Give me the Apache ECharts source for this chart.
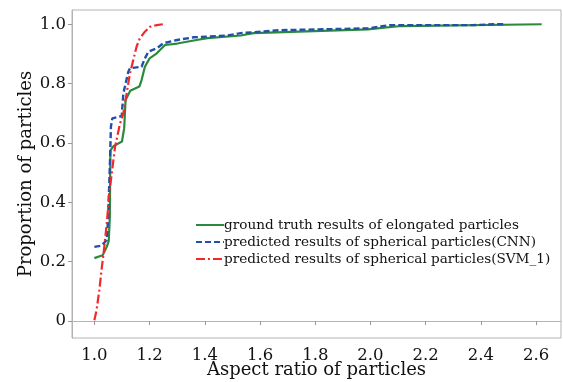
<!DOCTYPE html>
<html lang="en">
<head>
	<meta charset="UTF-8">
	<title>Aspect ratio of particles</title>
	<script type="text/javascript" src="https://cdn.jsdelivr.net/npm/echarts@6/dist/echarts.min.js"></script>
	<style type="text/css">
		html,body{margin:0;padding:0;background:#fff;}
	</style>
</head>
<body>
	<div id="main" style="width:563px;height:382px;"></div>
	<script>
		// ground truth (elongated)
		var truthX = [1.0, 1.03, 1.045, 1.052, 1.056, 1.058, 1.07, 1.1, 1.108, 1.113, 1.13, 1.163, 1.171, 1.183, 1.2, 1.226, 1.256, 1.3, 1.305, 1.37, 1.41, 1.53, 1.576, 1.99, 2.11, 2.62];
		var truthY = [0.212, 0.222, 0.25, 0.27, 0.35, 0.575, 0.59, 0.605, 0.65, 0.745, 0.776, 0.79, 0.812, 0.857, 0.885, 0.902, 0.93, 0.935, 0.941, 0.947, 0.953, 0.962, 0.97, 0.983, 0.994, 1.0];
		// CNN
		var cnnX = [1.0, 1.026, 1.045, 1.05, 1.057, 1.06, 1.065, 1.099, 1.105, 1.123, 1.129, 1.171, 1.183, 1.196, 1.226, 1.25, 1.3, 1.36, 1.48, 1.53, 1.673, 1.99, 2.07, 2.37, 2.445, 2.49];
		var cnnY = [0.25, 0.254, 0.273, 0.35, 0.55, 0.655, 0.683, 0.691, 0.767, 0.84, 0.852, 0.857, 0.885, 0.908, 0.919, 0.936, 0.947, 0.956, 0.962, 0.97, 0.98, 0.986, 0.997, 0.997, 1.0, 1.0];
		// SVM_1
		var svmX = [1.0, 1.008, 1.018, 1.026, 1.036, 1.045, 1.054, 1.075, 1.093, 1.105, 1.117, 1.129, 1.141, 1.153, 1.165, 1.183, 1.2, 1.226, 1.248];
		var svmY = [0.003, 0.037, 0.104, 0.172, 0.25, 0.329, 0.43, 0.587, 0.666, 0.7, 0.767, 0.835, 0.88, 0.925, 0.953, 0.975, 0.991, 0.997, 1.0];

		var xTicks = [1.0, 1.2, 1.4, 1.6, 1.8, 2.0, 2.2, 2.4, 2.6];
		var yTicks = [0, 0.2, 0.4, 0.6, 0.8, 1.0];

		var names = [
			'ground truth results of elongated particles',
			'predicted results of spherical particles(CNN)',
			'predicted results of spherical particles(SVM_1)'
		];

		function zip(a, b){
			var out = [];
			for(var i = 0;i<a.length;i++){ out.push([a[i], b[i]]); }
			return out;
		}

		var font = 'DejaVu Serif';
		var chart = echarts.init(document.getElementById('main'));
		var option = {
			animation: false,
			grid: {
				left: 72, right: 2, top: 10, bottom: 44,
				outerBoundsMode: 'none',
				show: true, borderColor: '#b4b4b4', borderWidth: 1
			},
			legend: {
				orient: 'vertical',
				left: 190, top: 213,
				itemWidth: 28, itemHeight: 12, itemGap: 3,
				itemStyle: {opacity: 0},
				textStyle: {fontFamily: font, fontSize: 13.6, color: '#111', padding: [0, 0, 0, -5]},
				data: names
			},
			xAxis: {
				type: 'value', min: 0.919, max: 2.69,
				name: 'Aspect ratio of particles',
				nameLocation: 'middle', nameGap: 23, nameMoveOverlap: false,
				nameTextStyle: {fontFamily: font, fontSize: 18, color: '#111'},
				axisLine: {lineStyle: {color: '#b4b4b4'}},
				axisTick: {show: true, length: 4, lineStyle: {color: '#999'}, customValues: xTicks},
				axisLabel: {fontFamily: font, fontSize: 16.5, color: '#111', margin: 9, customValues: xTicks,
					formatter: function(v){ return v.toFixed(1); }},
				splitLine: {show: false}
			},
			yAxis: {
				type: 'value', min: -0.057, max: 1.048,
				name: 'Proportion of particles',
				nameLocation: 'middle', nameGap: 37, nameMoveOverlap: false,
				nameTextStyle: {fontFamily: font, fontSize: 18, color: '#111'},
				axisLine: {show: true, lineStyle: {color: '#b4b4b4'}},
				axisTick: {show: true, length: 4, lineStyle: {color: '#999'}, customValues: yTicks},
				axisLabel: {fontFamily: font, fontSize: 16.5, color: '#111', margin: 6, customValues: yTicks,
					formatter: function(v){ return v === 0 ? '0' : v.toFixed(1); }},
				splitLine: {show: false}
			},
			series: [
				{name: names[0], type: 'line', symbol: 'none', data: zip(truthX, truthY),
					lineStyle: {color: '#2a8a3c', width: 2.2}, itemStyle: {color: '#2a8a3c'}},
				{name: names[1], type: 'line', symbol: 'none', data: zip(cnnX, cnnY),
					lineStyle: {color: '#2150aa', width: 2.4, type: [6, 3]}, itemStyle: {color: '#2150aa'}},
				{name: names[2], type: 'line', symbol: 'none', data: zip(svmX, svmY),
					lineStyle: {color: '#f2282a', width: 2.2, type: [9, 3, 2, 3]}, itemStyle: {color: '#f2282a'}}
			]
		};
		chart.setOption(option);
	</script>
</body>
</html>
